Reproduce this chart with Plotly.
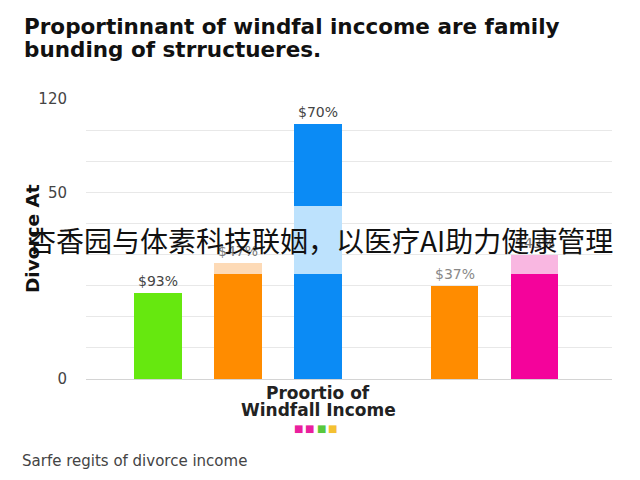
import plotly.graph_objects as go

# bars (left to right), values read on the 0..120 scale of the plot
categories = ["green", "orange", "blue", "orange 2", "pink"]
bar_lower = [36.9, 45.0, 45.0, 39.9, 45.0]
bar_middle = [0.0, 4.7, 29.1, 0.0, 8.1]
bar_upper = [0.0, 0.0, 35.2, 0.0, 0.0]
bar_labels = ["$93%", "$47%", "$70%", "$37%", "$43%"]

y_tick_vals = [0, 80, 120]
y_tick_text = ["0", "50", "120"]

legend_colors = ["#ea1f9e", "#ea1f9e", "#58c83c", "#f4c132"]

# layout of the bars along x (there is a gap before the 4th bar)
x_pos = [0, 1, 2, 3.71, 4.71]

lower_colors = ["#66e80f", "#ff8c00", "#0b8bf5", "#ff8c00", "#f4039b"]
middle_colors = ["#66e80f", "#fddab6", "#bde2fd", "#ff8c00", "#f9b7e1"]
upper_colors = ["#66e80f", "#ff8c00", "#0b8bf5", "#ff8c00", "#f4039b"]
label_colors = ["#444", "#777", "#444", "#888", "#777"]

# page body adds an 8px margin, so the figure sits 8px in from the screenshot corner
OFF = 8
W, H = 640, 480
L, R, T, B = 86 - OFF, 36, 99 - OFF, 109
pw, ph = W - L - R, H - T - B


def px(x):
    return (x - OFF - L) / pw


def py(y):
    return (H - B - (y - OFF)) / ph


fig = go.Figure()
for vals, cols in [(bar_lower, lower_colors), (bar_middle, middle_colors), (bar_upper, upper_colors)]:
    fig.add_trace(go.Bar(x=x_pos, y=vals, width=0.59, marker=dict(color=cols, line=dict(width=0)),
                         showlegend=False, hoverinfo="skip"))

for i, lab in enumerate(bar_labels):
    total = bar_lower[i] + bar_middle[i] + bar_upper[i]
    fig.add_annotation(x=x_pos[i], y=total, text=lab, showarrow=False, yanchor="bottom", yshift=2,
                       font=dict(family="DejaVu Sans", size=14, color=label_colors[i]))

fig.update_layout(
    width=W, height=H,
    paper_bgcolor="white", plot_bgcolor="white",
    margin=dict(l=L, r=R, t=T, b=B, autoexpand=False),
    barmode="stack", bargap=0,
    xaxis=dict(range=[-0.9, 5.675], showticklabels=False, showgrid=False, zeroline=False,
               showline=True, linecolor="#d4d4d4", linewidth=1, ticks="", automargin=False),
    yaxis=dict(range=[0, 120], tickvals=y_tick_vals, ticktext=y_tick_text,
               tickfont=dict(family="DejaVu Sans", size=15, color="#444"),
               ticks="outside", ticklen=15, tickcolor="rgba(0,0,0,0)",
               showgrid=False, zeroline=False, automargin=False,
               minor=dict(dtick=120 / 9, showgrid=True, gridcolor="#e8e8e8", gridwidth=1)),
    showlegend=False,
)


def note(x, y, text, size, color="#111", weight=None, xanchor="center", angle=0):
    fig.add_annotation(xref="paper", yref="paper", x=px(x), y=py(y), xanchor=xanchor, yanchor="middle",
                       text=text, showarrow=False, textangle=angle,
                       font=dict(family="DejaVu Sans", size=size, color=color, weight=weight))


note(22, 26, "Proportinnant of windfal inccome are family", 21.5, weight=600, xanchor="left")
note(22, 50, "bunding of strructueres.", 21.5, weight=600, xanchor="left")
note(32, 239, "Divorce At", 18.5, weight=700, angle=-90)
note(318, 393, "Proortio of", 17, color="#222", weight=600)
note(318, 410, "Windfall Income", 17, color="#222", weight=600)
# small colour squares
for i, c in enumerate(legend_colors):
    note(298 + 11.5 * i, 428, "■", 10, color=c)
note(20, 461, "Sarfe regits of divorce income", 15, color="#444", xanchor="left")

# overlay text
fig.add_annotation(xref="paper", yref="paper", x=px(320), y=py(240), xanchor="center", yanchor="middle",
                   text="杏香园与体素科技联姻，以医疗AI助力健康管理", showarrow=False,
                   font=dict(family="Noto Sans CJK SC", size=28, color="#111"))

fig.write_html("out.html")
